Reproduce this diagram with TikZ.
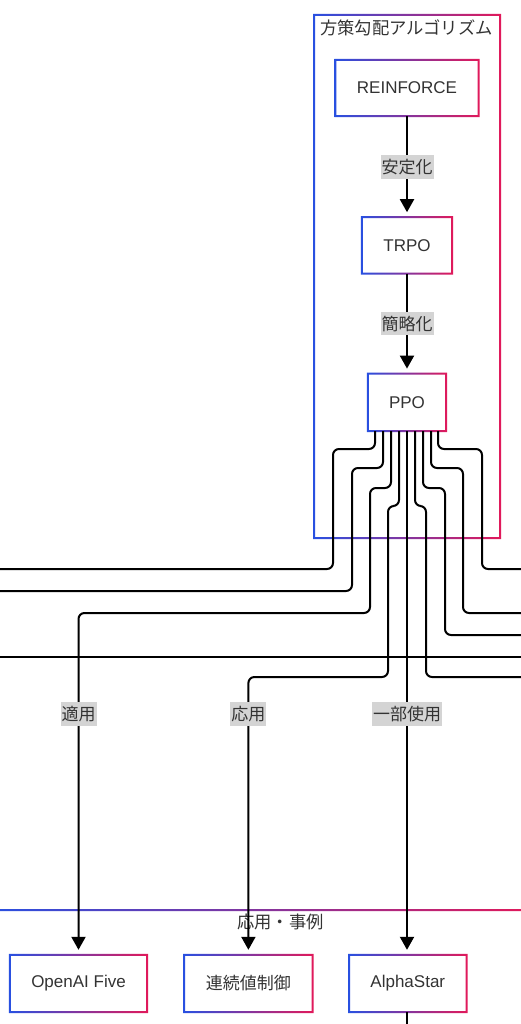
\documentclass[tikz,border=0pt]{standalone}
\usepackage{fontspec}
\setmainfont{Liberation Sans}
\newfontfamily\jp{Noto Sans CJK JP}
\definecolor{gblue}{RGB}{40, 80, 225}
\definecolor{gred}{RGB}{225, 25, 90}
\definecolor{inkgray}{RGB}{51, 51, 51}
\usetikzlibrary{arrows.meta, positioning, calc}
% frame with a blue-to-red border
\newcommand{\gradring}[2]{%
  \shade[left color=gblue, right color=gred, even odd rule]
    ($#1+(-1,-1)$) rectangle ($#2+(1,1)$)
    ($#1+(1,1)$) rectangle ($#2+(-1,-1)$);}

\begin{document}
\begin{tikzpicture}[x=1pt, y=-1pt,
  algobox/.style={fill=white, text=inkgray, inner sep=0pt, minimum height=56pt, font=\fontsize{17}{20}\selectfont},
  title/.style={text=inkgray, inner sep=0pt, font=\jp\fontsize{17.3}{20}\selectfont},
  lbl/.style={sharp corners, fill=black!17, text=inkgray, inner xsep=1pt, inner ysep=4pt, font=\jp\fontsize{17}{20}\selectfont},
  wire/.style={line width=2pt, rounded corners=6pt},
  flow/.style={wire, -{Triangle[length=13pt, width=14pt]}, shorten >=5pt}]
  \useasboundingbox (0,0) rectangle (520,1024);

  % subgraphs
  \gradring{(314,15)}{(500,538)}
  \node[title] (algotitle) at (406.5,28) {方策勾配アルゴリズム};
  \gradring{(-10,910)}{(530,1040)}
  \node[title] (apptitle) at (280.5,922) {応用・事例};

  % algorithms
  \node[algobox, minimum width=143pt] (rein) at (407,88) {REINFORCE};
  \node[algobox, minimum width=90pt, below=101pt of rein] (trpo) {TRPO};
  \node[algobox, minimum width=78pt, minimum height=57pt, below=100pt of trpo] (ppo) {PPO};

  % applications
  \node[algobox, minimum width=137pt, minimum height=57pt] (oai) at (78.5,983.5) {OpenAI Five};
  \node[algobox, minimum width=128pt, minimum height=57pt, right=37pt of oai] (cont) {\jp 連続値制御};
  \node[algobox, minimum width=117pt, minimum height=57pt, right=36.5pt of cont] (alpha) {AlphaStar};

  \foreach \n in {rein, trpo, ppo, oai, cont, alpha} {
    \gradring{(\n.north west)}{(\n.south east)}
  }

  \draw[flow] (rein) -- node[lbl] {安定化} (trpo);
  \draw[flow] (trpo) -- node[lbl] {簡略化} (ppo);

  % edges leaving the picture
  \foreach \dx/\dy/\cx/\cy/\ex in {-32/18/333/569/-10, -24/37/352/591/-10,
      8/75/426/677/530, 16/57/445/635/530, 24/37/463/613/530, 31/18/482/569/530} {
    \coordinate (exit) at (\ex,\cy);
    \draw[wire] ([xshift=\dx pt]ppo.south) -- ++(0,\dy) -| (\cx,\cy) -- (exit);
  }
  \coordinate (crossW) at (-10,657);
  \coordinate (crossE) at (530,657);
  \draw[wire] (crossW) -- (crossE);

  \draw[flow] ([xshift=-16pt]ppo.south) -- ++(0,57) -| (370,613)
    -| node[lbl, pos=0.648] {適用} (oai.north);
  \draw[flow] ([xshift=-8pt]ppo.south) -- ++(0,75) -| (388,677)
    -| node[lbl, pos=0.567] {応用} (cont.north);
  \draw[flow] (ppo.south) -- node[lbl, pos=0.54] {一部使用} (ppo.south |- alpha.north);

  \coordinate (below) at (407,1034);
  \draw[wire] (alpha.south -| below) -- (below);
\end{tikzpicture}
\end{document}
